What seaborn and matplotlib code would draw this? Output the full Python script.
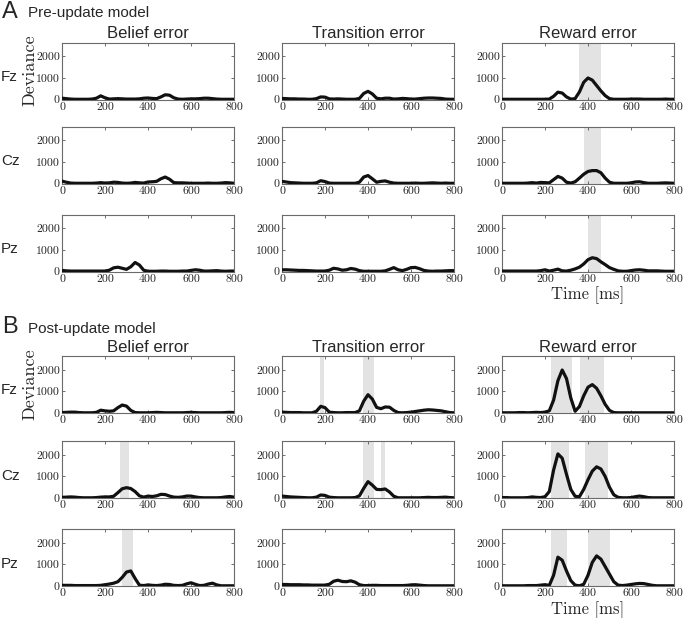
import pandas as pd
import matplotlib.pyplot as plt
import seaborn as sns

#Time grid (ms), one sample every 20 ms
time_ms = list(range(0, 801, 20))

errors = ['Belief error', 'Transition error', 'Reward error']
channels = ['Fz', 'Cz', 'Pz']
models = ['Pre-update model', 'Post-update model']
panel_letters = ['A', 'B']

#Deviance curves, pre-update model
pre_fz_belief = [60, 40, 20, 10, 10, 10, 10, 20, 60, 170, 80, 20, 30, 40, 30, 20, 20, 20, 30, 60, 70,
                 50, 40, 120, 220, 200, 80, 20, 10, 20, 30, 30, 40, 60, 60, 40, 20, 10, 10, 10, 10]
pre_fz_transition = [50, 40, 30, 30, 20, 20, 10, 10, 40, 120, 110, 30, 20, 30, 20, 10, 10, 10, 50, 280, 380,
                     260, 60, 30, 60, 60, 20, 30, 50, 40, 20, 20, 40, 60, 70, 70, 60, 50, 20, 10, 10]
pre_fz_reward = [10, 10, 10, 10, 10, 10, 10, 10, 10, 10, 10, 20, 150, 340, 300, 120, 20, 40, 350, 800, 1000,
                 900, 650, 400, 180, 40, 10, 10, 10, 10, 20, 20, 20, 10, 10, 10, 10, 10, 20, 10, 10]
pre_cz_belief = [110, 60, 20, 10, 10, 10, 10, 10, 20, 40, 20, 30, 60, 50, 20, 10, 20, 50, 30, 20, 70,
                 80, 100, 220, 300, 200, 40, 30, 30, 20, 10, 10, 10, 10, 20, 10, 10, 20, 40, 30, 10]
pre_cz_transition = [100, 70, 40, 30, 20, 10, 10, 10, 30, 130, 90, 20, 10, 10, 10, 10, 10, 10, 60, 300, 370,
                     220, 60, 100, 120, 60, 20, 10, 10, 10, 10, 20, 10, 10, 20, 30, 20, 10, 20, 10, 10]
pre_cz_reward = [10, 10, 10, 10, 10, 10, 20, 40, 20, 50, 40, 30, 180, 330, 250, 60, 20, 80, 250, 430, 560,
                 600, 600, 500, 250, 60, 10, 10, 10, 10, 30, 70, 80, 40, 10, 10, 10, 20, 30, 20, 10]
pre_pz_belief = [50, 30, 20, 20, 20, 20, 20, 20, 20, 20, 20, 60, 170, 200, 150, 100, 220, 420, 300, 60, 10,
                 10, 10, 20, 20, 10, 10, 10, 20, 20, 50, 80, 60, 20, 20, 30, 40, 20, 10, 20, 20]
pre_pz_transition = [80, 80, 70, 60, 50, 50, 40, 30, 20, 20, 20, 60, 150, 120, 60, 80, 140, 110, 40, 10, 10,
                     10, 10, 10, 30, 100, 180, 80, 40, 100, 180, 190, 130, 50, 20, 10, 20, 20, 30, 40, 40]
pre_pz_reward = [20, 20, 20, 20, 20, 20, 20, 20, 20, 40, 80, 20, 60, 110, 30, 20, 60, 120, 200, 350, 550,
                 640, 600, 450, 320, 180, 100, 30, 10, 10, 40, 70, 80, 60, 30, 30, 30, 20, 10, 10, 10]

#Post-update model
post_fz_belief = [20, 30, 40, 40, 20, 10, 10, 10, 30, 130, 100, 80, 100, 250, 370, 320, 120, 20, 10, 10, 10,
                  20, 30, 20, 10, 10, 10, 10, 10, 20, 30, 20, 10, 10, 10, 10, 10, 10, 20, 30, 20]
post_fz_transition = [40, 30, 20, 20, 20, 10, 10, 10, 80, 310, 250, 40, 20, 10, 10, 20, 20, 20, 100, 550, 850,
                      650, 260, 200, 280, 270, 120, 20, 10, 20, 40, 70, 100, 130, 150, 140, 120, 100, 60, 20, 10]
post_fz_reward = [10, 10, 10, 10, 20, 20, 10, 20, 30, 20, 40, 100, 600, 1500, 2000, 1600, 700, 80, 300, 800, 1200,
                  1320, 1150, 800, 400, 120, 20, 10, 10, 10, 10, 10, 10, 10, 10, 10, 10, 10, 10, 10, 10]
post_cz_belief = [30, 40, 50, 40, 20, 10, 10, 10, 20, 40, 50, 50, 80, 250, 430, 480, 440, 300, 100, 40, 90,
                  70, 100, 170, 160, 90, 40, 30, 50, 90, 90, 50, 20, 10, 10, 10, 10, 20, 50, 70, 40]
post_cz_transition = [90, 70, 50, 40, 30, 20, 10, 10, 40, 140, 120, 40, 20, 10, 10, 10, 10, 20, 100, 450, 760,
                      600, 400, 390, 420, 280, 80, 10, 10, 10, 10, 10, 10, 20, 30, 20, 20, 30, 40, 20, 10]
post_cz_reward = [20, 20, 10, 10, 10, 10, 20, 50, 30, 20, 60, 300, 1300, 2050, 1850, 1100, 400, 80, 60, 400, 850,
                  1250, 1450, 1350, 1000, 500, 150, 30, 10, 10, 20, 60, 90, 60, 20, 10, 10, 10, 10, 10, 10]
post_pz_belief = [30, 30, 30, 20, 20, 20, 20, 20, 20, 30, 60, 90, 130, 200, 400, 650, 700, 350, 40, 20, 50,
                  30, 20, 40, 80, 70, 30, 20, 30, 100, 150, 80, 20, 30, 90, 130, 50, 10, 10, 10, 10]
post_pz_transition = [70, 70, 60, 60, 60, 50, 50, 40, 40, 40, 40, 80, 220, 270, 210, 200, 240, 180, 60, 20, 20,
                      30, 30, 20, 20, 20, 20, 20, 20, 30, 50, 60, 40, 20, 10, 10, 10, 10, 10, 10, 10]
post_pz_reward = [10, 10, 10, 10, 10, 10, 20, 20, 20, 40, 60, 30, 500, 1340, 1200, 700, 250, 40, 10, 80, 500,
                  1100, 1400, 1250, 900, 550, 200, 40, 20, 40, 70, 100, 120, 110, 70, 30, 10, 10, 10, 10, 10]

#Significant windows (ms), shaded grey
pre_fz_sig = [[], [], [(360, 460)]]
pre_cz_sig = [[], [], [(380, 460)]]
pre_pz_sig = [[], [], [(400, 460)]]
post_fz_sig = [[], [(175, 195), (375, 430)], [(230, 325), (365, 475)]]
post_cz_sig = [[(270, 310)], [(375, 430), (460, 480)], [(230, 310), (385, 495)]]
post_pz_sig = [[(280, 330)], [], [(230, 300), (400, 500)]]

curves = {
    ('Pre-update model', 'Fz'): [pre_fz_belief, pre_fz_transition, pre_fz_reward],
    ('Pre-update model', 'Cz'): [pre_cz_belief, pre_cz_transition, pre_cz_reward],
    ('Pre-update model', 'Pz'): [pre_pz_belief, pre_pz_transition, pre_pz_reward],
    ('Post-update model', 'Fz'): [post_fz_belief, post_fz_transition, post_fz_reward],
    ('Post-update model', 'Cz'): [post_cz_belief, post_cz_transition, post_cz_reward],
    ('Post-update model', 'Pz'): [post_pz_belief, post_pz_transition, post_pz_reward],
}
shades = {
    ('Pre-update model', 'Fz'): pre_fz_sig, ('Pre-update model', 'Cz'): pre_cz_sig,
    ('Pre-update model', 'Pz'): pre_pz_sig, ('Post-update model', 'Fz'): post_fz_sig,
    ('Post-update model', 'Cz'): post_cz_sig, ('Post-update model', 'Pz'): post_pz_sig,
}

#Long-format table for seaborn
rows = []
for (model, ch), series in curves.items():
    for err, vals in zip(errors, series):
        for t, v in zip(time_ms, vals):
            rows.append({'model': model, 'channel': ch, 'error': err, 'time': t, 'deviance': v})
df = pd.DataFrame(rows)

sns.set_style('ticks')
plt.rcParams['font.family'] = ['Liberation Sans', 'DejaVu Sans']

W, H = 685, 618
fig = plt.figure(figsize=(W / 100, H / 100), dpi=100)

col_left = [62, 282, 502]
ax_w, ax_h = 172, 57
row_tops = [[42.5, 126.5, 214.5], [356, 441, 529]]
section_top = [17.5, 333]

serif = 'cmr10'

for m, model in enumerate(models):
    fig.text(2 / W, 1 - section_top[m] / H, panel_letters[m], fontsize=17, va='baseline', ha='left')
    fig.text(28 / W, 1 - section_top[m] / H, model, fontsize=11, va='baseline', ha='left')
    for r, ch in enumerate(channels):
        top = row_tops[m][r]
        fig.text(1 / W, 1 - (top + ax_h / 2 + 6) / H, ch, fontsize=11, va='center', ha='left')
        for c, err in enumerate(errors):
            ax = fig.add_axes([col_left[c] / W, 1 - (top + ax_h) / H, ax_w / W, ax_h / H])
            for (s, e) in shades[(model, ch)][c]:
                ax.axvspan(s, e, color='#e3e3e3', lw=0, zorder=0)
            sub = df[(df.model == model) & (df.channel == ch) & (df.error == err)]
            sns.lineplot(data=sub, x='time', y='deviance', ax=ax, color='#111111', linewidth=2.3,
                         zorder=3, legend=False)
            ax.set(xlim=(0, 800), ylim=(0, 2650), xlabel='', ylabel='')
            ax.set_xticks([0, 200, 400, 600, 800])
            ax.set_xticklabels(['0', '200', '400', '600', '800'], fontfamily=serif, fontsize=8.5)
            ax.set_yticks([0, 1000, 2000])
            ax.set_yticklabels(['0', '1000', '2000'], fontfamily=serif, fontsize=8.5)
            ax.tick_params(axis='both', direction='in', length=2.5, width=0.6, color='#555555',
                           top=True, right=True, labelcolor='#222222')
            ax.tick_params(axis='x', pad=2)
            ax.tick_params(axis='y', pad=1.5)
            for sp in ax.spines.values():
                sp.set_color('#6a6a6a')
                sp.set_linewidth(0.8)
            if r == 0:
                ax.set_title(err, fontsize=12, pad=3)
    #axis labels
    fig.text(29.5 / W, 1 - (row_tops[m][0] + 28) / H, 'Deviance', rotation=90, ha='center', va='center',
             fontfamily=serif, fontsize=13)
    fig.text((col_left[2] + ax_w / 2) / W, 1 - (row_tops[m][2] + ax_h + 24) / H, 'Time [ms]',
             ha='center', va='center', fontfamily=serif, fontsize=12)

fig.savefig('out.png', dpi=100)
